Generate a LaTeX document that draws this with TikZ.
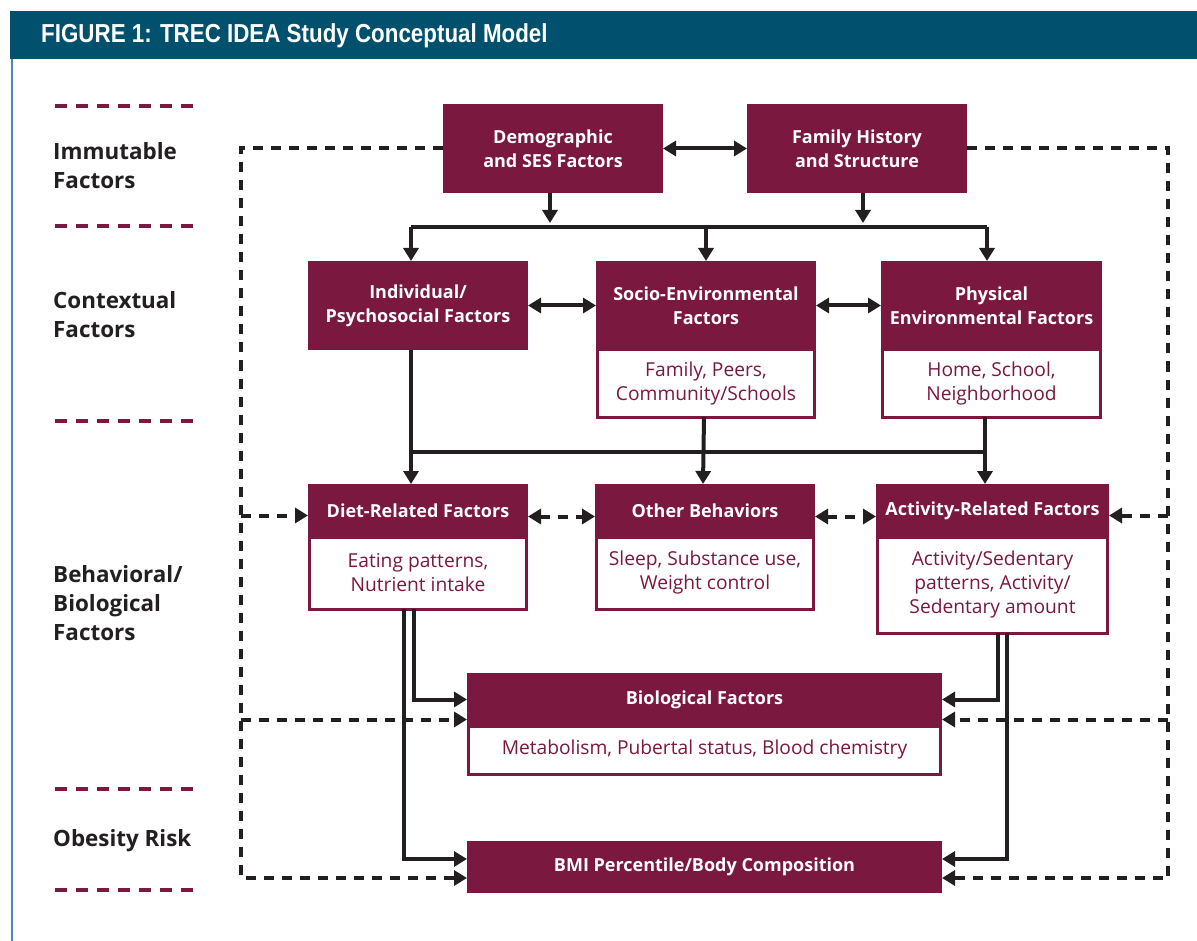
\documentclass[tikz,border=0pt]{standalone}
\usepackage{fontspec}
\setmainfont{Open Sans}
\newfontfamily\titlefont[FakeStretch=0.86]{Liberation Sans}
\usetikzlibrary{positioning, arrows.meta, calc}
\definecolor{ideaMaroon}{HTML}{7B1840}
\definecolor{ideaTeal}{HTML}{01516E}
\definecolor{ideaFrame}{HTML}{4D8BA3}
\definecolor{ideaDark}{HTML}{231F20}

\begin{document}
\begin{tikzpicture}[
    x=1pt, y=-1pt,
    hdr/.style={rectangle, fill=ideaMaroon, text=white, align=center, inner sep=0pt, outer sep=0pt, minimum width=220pt, minimum height=89pt, font=\bfseries\fontsize{18}{24}\selectfont},
    sub/.style={rectangle, draw=ideaMaroon, line width=3pt, fill=white, text=ideaMaroon, align=center, inner sep=0pt, outer sep=0pt, minimum width=217pt, minimum height=67pt, font=\fontsize{19.2}{24}\selectfont},
    lbl/.style={anchor=west, align=left, text=ideaDark, inner sep=0pt, font=\bfseries\fontsize{22.4}{29}\selectfont},
    sep/.style={ideaMaroon, line width=4pt, dash pattern=on 12pt off 9pt},
    line/.style={ideaDark, line width=4pt},
    arrow/.style={line, -{Triangle[length=13pt, width=15pt]}},
    biarrow/.style={line, {Triangle[length=13pt, width=15pt]}-{Triangle[length=13pt, width=15pt]}},
    dasharrow/.style={arrow, dash pattern=on 10pt off 8pt},
    dashbiarrow/.style={biarrow, dash pattern=on 10pt off 8pt},
]
\useasboundingbox (0,0) rectangle (1197,941);

% Frame and title
\fill[ideaTeal] (10,11) rectangle (1197,59);
\draw[ideaFrame, line width=2pt] (12,59) -- (12,941);
\node[anchor=west, text=white, inner sep=0pt, font=\titlefont\bfseries\fontsize{26}{30}\selectfont] (title) at (41,36) {FIGURE 1: TREC IDEA Study Conceptual Model};

% Level labels
\node[lbl] (immutable) at (53,166) {Immutable\\Factors};
\node[lbl] (contextual) at (53,314.5) {Contextual\\Factors};
\node[lbl] (behavioral) at (53,603) {Behavioral/\\Biological\\Factors};
\node[lbl] (obesity) at (53,841) {Obesity Risk};
\foreach \y in {106,226,421,789,890}
    \draw[sep] (55,\y) -- (193,\y);

% Immutable factors
\node[hdr] (demo) at (553,148.5) {Demographic\\and SES Factors};
\node[hdr] (family) at (857,148.5) {Family History\\and Structure};

% Contextual factors
\node[hdr] (indiv) at (418,305.5) {Individual/\\Psychosocial Factors};
\node[hdr] (socio) at (706,305.5) {Socio-Environmental\\Factors};
\node[sub, below=0pt of socio] (sociosub) {Family, Peers,\\Community/Schools};
\node[hdr, minimum width=221pt] (phys) at (991.5,305.5) {Physical\\Environmental Factors};
\node[sub, minimum width=218pt, below=0pt of phys] (physsub) {Home, School,\\Neighborhood};

% Behavioral factors
\node[hdr, minimum height=53pt] (diet) at (418,510.5) {Diet-Related Factors};
\node[sub, minimum height=72pt, below=0pt of diet] (dietsub) {Eating patterns,\\Nutrient intake};
\node[hdr, minimum height=53pt] (other) at (705,510.5) {Other Behaviors};
\node[sub, minimum height=72pt, below=0pt of other] (othersub) {Sleep, Substance use,\\Weight control};
\node[hdr, minimum width=233pt, minimum height=53pt] (activity) at (992.5,510.5) {Activity-Related Factors};
\node[sub, minimum width=230pt, minimum height=96pt, below=0pt of activity] (activitysub) {Activity/Sedentary\\patterns, Activity/\\Sedentary amount};

% Biological factors and outcome
\node[hdr, minimum width=475pt, minimum height=53pt] (bio) at (704.5,699.5) {Biological Factors};
\node[sub, minimum width=472pt, minimum height=48pt, below=0pt of bio] (biosub) {Metabolism, Pubertal status, Blood chemistry};
\node[hdr, minimum width=475pt, minimum height=52pt] (bmi) at (704.5,866.5) {BMI Percentile/Body Composition};

% Helper points
\coordinate (busL) at (411,227);
\coordinate (busR) at (987,227);
\coordinate (midL) at (411,452);
\coordinate (midR) at (985,452);
\coordinate (loopL) at (241,878);
\coordinate (loopR) at (1168,878);
\coordinate (dietIn) at ([yshift=-5pt]diet.west);
\coordinate (actIn) at ([yshift=-5pt]activity.east);
\coordinate (bioInL) at ([yshift=-20pt]bio.west);
\coordinate (bioInR) at ([yshift=-20pt]bio.east);
\coordinate (bmiInL) at ([yshift=-11.5pt]bmi.west);
\coordinate (bmiInR) at ([yshift=-11.5pt]bmi.east);

% Immutable to contextual
\draw[biarrow] (demo) -- (family);
\draw[arrow, shorten >=4pt] ([xshift=-3pt]demo.south) -- ([xshift=-3pt]demo.south |- busL);
\draw[arrow, shorten >=4pt] ([xshift=6pt]family.south) -- ([xshift=6pt]family.south |- busR);
\draw[line] (busL) -- (busR);
\draw[arrow] (busL) -- (indiv.north -| busL);
\draw[arrow] (busL -| socio.north) -- (socio.north);
\draw[arrow] (busR) -- (phys.north -| busR);
\draw[biarrow] (indiv) -- (socio);
\draw[biarrow] (socio) -- (phys);

% Contextual to behavioral
\draw[arrow] (indiv.south -| midL) -- (diet.north -| midL);
\draw[line] (midL) -- (midR);
\draw[arrow] ([xshift=-2pt]sociosub.south) -- ([xshift=-2pt]other.north);
\draw[arrow] (physsub.south -| midR) -- (activity.north -| midR);
\draw[dashbiarrow] ([yshift=-6pt]diet.east) -- ([yshift=-6pt]other.west);
\draw[dashbiarrow] ([yshift=-6pt]other.east) -- ([yshift=-6pt]activity.west);

% Behavioral to biological and BMI
\draw[arrow] ([xshift=-4pt]dietsub.south) |- (bio.west);
\draw[arrow] ([xshift=-14pt]dietsub.south) |- ([yshift=7.5pt]bmi.west);
\draw[arrow] ([xshift=5.5pt]activitysub.south) |- (bio.east);
\draw[arrow] ([xshift=14.5pt]activitysub.south) |- ([yshift=7.5pt]bmi.east);

% Dashed influence of immutable factors
\draw[dasharrow] (demo.west) -| (loopL) -- (bmiInL);
\draw[dasharrow] (dietIn -| loopL) -- (dietIn);
\draw[dasharrow] (bioInL -| loopL) -- (bioInL);
\draw[dasharrow] (family.east) -| (loopR) -- (bmiInR);
\draw[dasharrow] (actIn -| loopR) -- (actIn);
\draw[dasharrow] (bioInR -| loopR) -- (bioInR);
\end{tikzpicture}
\end{document}
